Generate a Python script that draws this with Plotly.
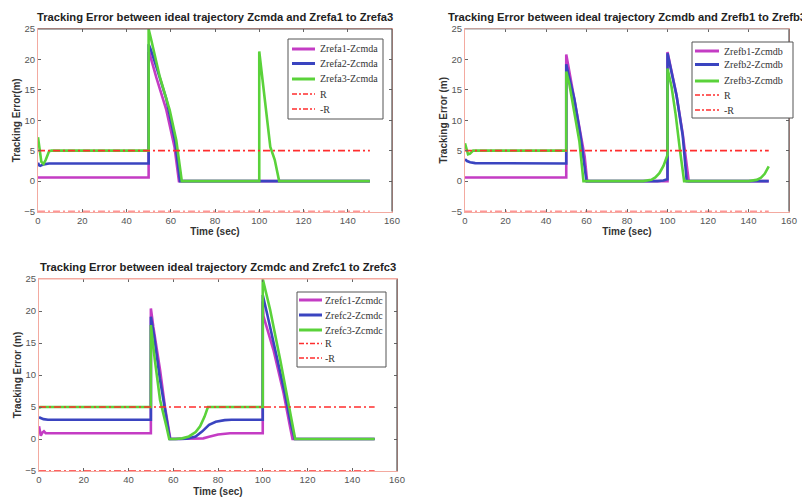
import plotly.graph_objects as go

W, H = 810, 497

# ---------------- data ----------------
r_t = [0, 150]
r_pos = [5, 5]
r_neg = [-5, -5]

# Panel A
ta1 = [0, 0.5, 50, 50, 50.4, 53.5, 58, 61.7, 63.7, 150]
a1 = [0.6, 0.6, 0.6, 21, 21, 17, 11.7, 5.6, 0, 0]
ta2 = [0, 0.5, 1.0, 2.5, 5, 50, 50, 51, 54, 58, 62, 64.2, 150]
a2 = [3.0, 2.6, 2.5, 2.75, 2.9, 2.9, 22.5, 21.6, 18.2, 13.5, 6.5, 0, 0]
ta3 = [0, 0.5, 1.5, 2.5, 3.5, 5, 6, 50, 50, 51.2, 55, 59.5, 62.5, 65, 100, 100, 101.6, 103.2, 105, 107, 108.4, 109, 150]
a3 = [7.2, 6.0, 3.2, 2.8, 3.5, 4.9, 5, 5, 25, 23.2, 17.2, 11.7, 6.7, 0, 0, 21.3, 16, 11.6, 5.6, 3.5, 0.7, 0, 0]

# Panel B
tb1 = [0, 50, 50, 51.5, 53.4, 56.6, 59.1, 60.3, 100, 100, 102, 104.3, 107.5, 109.5, 110.5, 150]
b1 = [0.6, 0.6, 20.8, 18, 14.4, 8.9, 4, 0, 0, 21.2, 18, 14.4, 7.8, 3, 0, 0]
tb2 = [0, 1, 2.5, 5, 50, 50, 51.5, 54, 57, 59.5, 60, 95, 98, 99.8, 100, 100, 102, 104.5, 107.5, 109, 109.5, 150]
b2 = [3.6, 3.3, 3.1, 2.95, 2.9, 19.2, 17, 13.5, 7.5, 1.0, 0, 0, 0.1, 0.3, 0.3, 21, 18, 14, 7.5, 1.5, 0, 0]
tb3 = [0, 0.5, 1.5, 2.5, 4, 50, 50, 51.5, 54, 56.5, 58.5, 88, 92, 94, 96, 98, 100, 100, 102, 104, 106, 107.5, 108.2, 140, 144, 146, 148, 150]
b3 = [6.2, 5.4, 4.4, 4.5, 5, 5, 18, 16, 11.5, 6.5, 0, 0, 0.2, 0.6, 1.3, 2.5, 4.3, 18.5, 15.5, 11, 5.5, 1.5, 0, 0, 0.2, 0.5, 1.2, 2.4]

# Panel C
tc1 = [0, 0.3, 0.8, 1.5, 2.2, 3, 5, 50, 50, 51.1, 54.1, 56.3, 58.7, 70, 73.4, 76, 80, 85.4, 100, 100, 100.3, 104.8, 109.3, 112.2, 113.3, 150]
c1 = [2.0, 1.2, 0.5, 1.0, 1.2, 0.9, 0.9, 0.9, 20.4, 17.5, 10.8, 5, 0, 0, 0.1, 0.35, 0.7, 0.9, 0.9, 21.5, 19.2, 13.9, 7.2, 1.9, 0, 0]
tc2 = [0, 2, 4, 50, 50, 51.5, 54, 56.5, 58.5, 63, 66, 70, 73, 76, 79, 83, 86, 100, 100, 102, 106, 110, 112.5, 114.3, 150]
c2 = [3.4, 3.1, 3.0, 3.0, 19.1, 16, 9.5, 4, 0, 0, 0.05, 0.4, 1.2, 2.2, 2.7, 2.95, 3.0, 3.0, 22.5, 19.5, 13.5, 7, 2.5, 0, 0]
tc3 = [0, 0.5, 50, 50, 51.8, 54.1, 57, 58.2, 61, 64, 67, 70, 72, 74, 75.5, 100, 100, 103.3, 107.8, 112.2, 114.5, 150]
c3 = [4.8, 5, 5, 17.8, 12.3, 6.1, 1.9, 0, 0, 0.1, 0.4, 1.1, 2.0, 3.5, 5, 5, 25, 20.2, 12.4, 4.5, 0, 0]

titles = [
    "Tracking Error between ideal trajectory Zcmda and Zrefa1 to Zrefa3",
    "Tracking Error between ideal trajectory Zcmdb and Zrefb1 to Zrefb3",
    "Tracking Error between ideal trajectory Zcmdc and Zrefc1 to Zrefc3",
]
ylabels = ["Tracking Error(m)", "Tracking Error (m)", "Tracking Error (m)"]
xlabel = "Time (sec)"
legend_names = [
    ["Zrefa1-Zcmda", "Zrefa2-Zcmda", "Zrefa3-Zcmda", "R", "-R"],
    ["Zrefb1-Zcmdb", "Zrefb2-Zcmdb", "Zrefb3-Zcmdb", "R", "-R"],
    ["Zrefc1-Zcmdc", "Zrefc2-Zcmdc", "Zrefc3-Zcmdc", "R", "-R"],
]
x_ticks = [0, 20, 40, 60, 80, 100, 120, 140, 160]
y_ticks = [-5, 0, 5, 10, 15, 20, 25]

# ---------------- style ----------------
MAG = "#c43cc4"
BLU = "#3a44c0"
GRN = "#5ad23a"
RED = "#ff2e2e"
colors = [MAG, BLU, GRN, RED, RED]
PINK = "#f3aaa0"
DARK = "#555555"

# the page body adds an 8px offset around the plot div; compensate for it
OFF = 8

def px(xp):
    return (xp - OFF) / W

def py(yp):
    return 1 - (yp - OFF) / H

# panel frames in screen pixels: (left, right, top, bottom)
frames = [(38, 392, 29, 211.5), (465, 789, 29, 211.5), (39, 397, 279, 471)]
top_colors = [DARK, "#999999", PINK]

series = [
    [(ta1, a1), (ta2, a2), (ta3, a3)],
    [(tb1, b1), (tb2, b2), (tb3, b3)],
    [(tc1, c1), (tc2, c2), (tc3, c3)],
]

# legend layouts in screen pixels
legends = [
    dict(box=(288, 39, 383, 119), lx=(292, 315), tx=318, rows=[49, 63.5, 79, 94, 109]),
    dict(box=(692, 42, 793, 118), lx=(695, 719), tx=722, rows=[51, 64.5, 81, 95, 110]),
    dict(box=(297, 292, 386, 367), lx=(299, 322), tx=323, rows=[300, 315, 330, 343.5, 358]),
]

fig = go.Figure()
shapes = []
annotations = []

for i in range(3):
    xa = "x" if i == 0 else f"x{i+1}"
    ya = "y" if i == 0 else f"y{i+1}"
    names = legend_names[i]
    for j, (t, v) in enumerate(series[i]):
        fig.add_trace(go.Scatter(x=t, y=v, mode="lines", name=names[j],
                                 line=dict(color=colors[j], width=2.6),
                                 xaxis=xa, yaxis=ya, showlegend=False))
    fig.add_trace(go.Scatter(x=r_t, y=r_pos, mode="lines", name=names[3],
                             line=dict(color=RED, width=1.6, dash="7px,3px,2px,3px"),
                             xaxis=xa, yaxis=ya, showlegend=False))
    fig.add_trace(go.Scatter(x=r_t, y=r_neg, mode="lines", name=names[4],
                             line=dict(color=RED, width=1.6, dash="7px,3px,2px,3px"),
                             xaxis=xa, yaxis=ya, showlegend=False))

    L, R, T, B = frames[i]
    xkey = "xaxis" if i == 0 else f"xaxis{i+1}"
    ykey = "yaxis" if i == 0 else f"yaxis{i+1}"
    fig.update_layout(**{
        xkey: dict(domain=[px(L), px(R)], range=[0, 160], anchor=ya, automargin=False,
                   tickvals=x_ticks, ticks="inside", ticklen=3, tickcolor="#666",
                   showline=True, linecolor=PINK, linewidth=1, mirror="ticks",
                   showgrid=False, zeroline=False,
                   tickfont=dict(family="Liberation Sans, Arial", size=9.5, color="#555"),
                   title=dict(text="<b>" + xlabel + "</b>", standoff=3,
                              font=dict(family="Liberation Sans, Arial", size=10, color="#333"))),
        ykey: dict(domain=[py(B), py(T)], range=[-5, 25], anchor=xa, automargin=False,
                   tickvals=y_ticks, ticks="inside", ticklen=3, tickcolor="#666",
                   showline=True, linecolor=PINK, linewidth=1, mirror="ticks",
                   showgrid=False, zeroline=False,
                   tickfont=dict(family="Liberation Sans, Arial", size=9.5, color="#555"),
                   title=dict(text="<b>" + ylabels[i] + "</b>", standoff=1,
                              font=dict(family="Liberation Sans, Arial", size=10, color="#333"))),
    })

    # darker right and top borders
    shapes.append(dict(type="line", xref="paper", yref="paper",
                       x0=px(R), x1=px(R), y0=py(B), y1=py(T),
                       line=dict(color=DARK, width=1.2)))
    shapes.append(dict(type="line", xref="paper", yref="paper",
                       x0=px(L), x1=px(R), y0=py(T), y1=py(T),
                       line=dict(color=top_colors[i], width=1)))

    # title
    annotations.append(dict(text="<b>" + titles[i] + "</b>", xref="paper", yref="paper",
                            x=px((L + R) / 2), y=py(T - 12), xanchor="center", yanchor="middle",
                            showarrow=False,
                            font=dict(family="Liberation Sans, Arial", size=11.2, color="#222")))

    # legend (drawn by hand to match the compact MATLAB legend)
    lg = legends[i]
    bx0, by0, bx1, by1 = lg["box"]
    shapes.append(dict(type="rect", xref="paper", yref="paper",
                       x0=px(bx0), x1=px(bx1), y0=py(by1), y1=py(by0),
                       fillcolor="white", line=dict(color="#555", width=1)))
    for k, ry in enumerate(lg["rows"]):
        if k < 3:
            ln = dict(color=colors[k], width=3)
        else:
            ln = dict(color=RED, width=1.6, dash="5px,2px,2px,2px")
        shapes.append(dict(type="line", xref="paper", yref="paper",
                           x0=px(lg["lx"][0]), x1=px(lg["lx"][1]), y0=py(ry), y1=py(ry),
                           line=ln))
        annotations.append(dict(text=names[k], xref="paper", yref="paper",
                                x=px(lg["tx"]), y=py(ry), xanchor="left", yanchor="middle",
                                showarrow=False,
                                font=dict(family="Liberation Serif, Times New Roman", size=10, color="#333")))

fig.update_layout(width=W, height=H, margin=dict(l=0, r=0, t=0, b=0),
                  paper_bgcolor="white", plot_bgcolor="white",
                  shapes=shapes, annotations=annotations, showlegend=False)

fig.write_html("out.html")
